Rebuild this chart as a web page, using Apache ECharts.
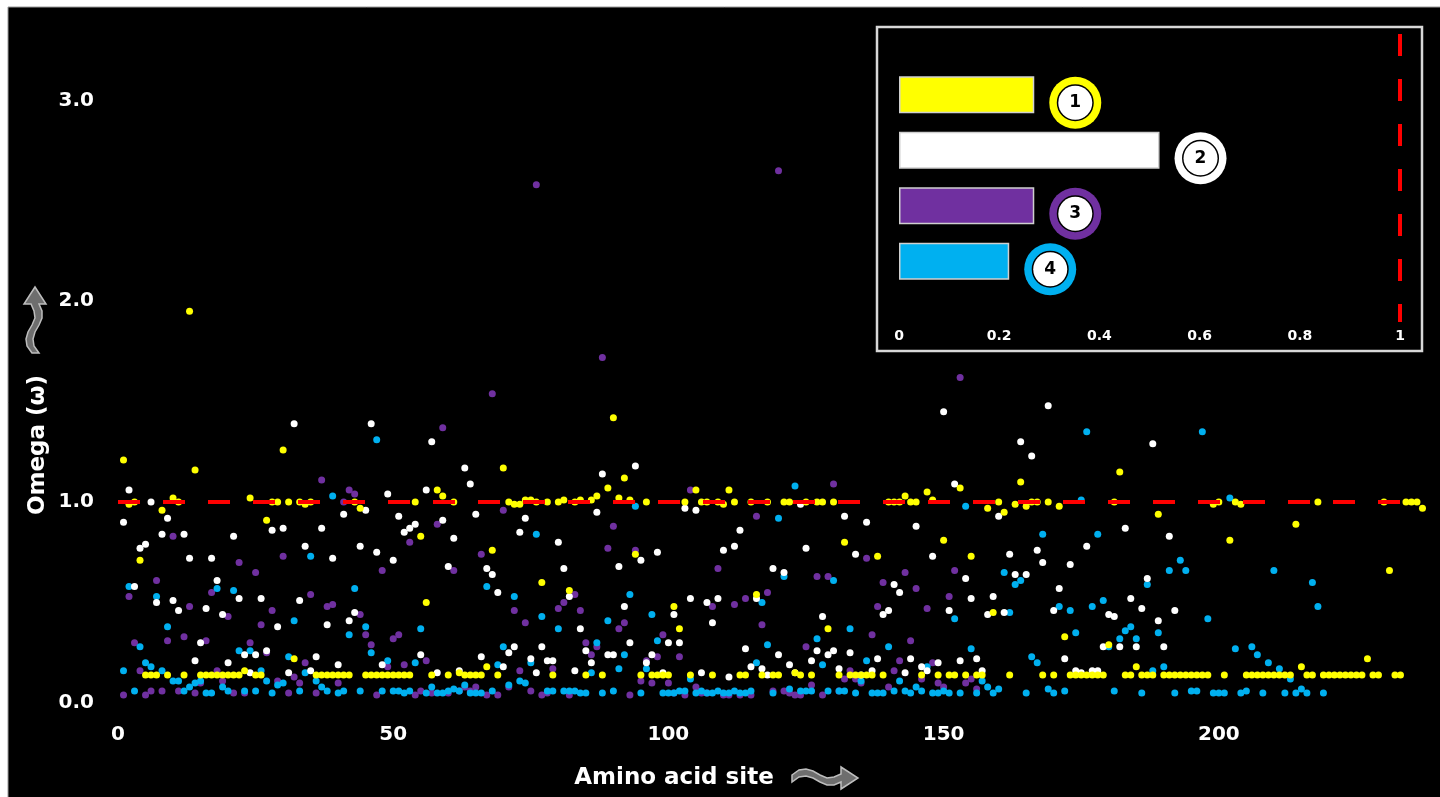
<!DOCTYPE html>
<html>
<head>
<meta charset="utf-8">
<script src="https://cdn.jsdelivr.net/npm/echarts@6/dist/echarts.min.js"></script>
<style>
  html, body { margin: 0; padding: 0; background: #fff; }
  #main { width: 1440px; height: 797px; }
</style>
</head>
<body>
<div id="main"></div>
<script>
// omega per amino acid site, index 0 = site 1
let yellowOmega = [1.21,0.99,1.0,0.71,0.14,0.14,0.14,0.96,0.14,1.02,
1.0,0.14,1.95,1.16,0.14,0.14,0.14,0.14,0.14,0.14,
0.14,0.14,0.16,1.02,0.14,0.14,0.91,1.0,1.0,1.26,
1.0,0.22,1.0,0.99,1.0,0.14,0.14,0.14,0.14,0.14,
0.14,0.14,1.0,0.97,0.14,0.14,0.14,0.14,0.14,0.14,
0.14,0.14,0.14,1.0,0.83,0.5,0.14,1.06,1.03,0.14,
1.0,0.15,0.14,0.14,0.14,0.14,0.18,0.76,0.14,1.17,
1.0,0.99,0.99,1.01,1.01,1.0,0.6,1.0,0.14,1.0,
1.01,0.56,1.0,1.01,0.14,1.01,1.03,0.14,1.07,1.42,
1.02,1.12,1.01,0.74,0.14,1.0,0.14,0.14,0.14,0.14,
0.48,0.37,1.0,0.14,1.06,1.0,1.0,0.14,1.0,0.99,
1.06,1.0,0.14,0.14,1.0,0.54,0.14,1.0,0.14,0.14,
1.0,1.0,0.15,0.14,1.0,0.14,1.0,1.0,0.37,1.0,
0.14,0.8,0.14,0.14,0.14,0.14,0.14,0.73,0.14,1.0,
1.0,1.0,1.03,1.0,1.0,0.14,1.05,1.01,0.14,0.81,
0.14,0.14,1.07,0.14,0.73,0.14,0.14,0.97,0.45,1.0,
0.95,0.14,0.99,1.1,0.98,1.0,1.0,0.14,1.0,0.14,
0.98,0.33,0.14,0.14,0.14,0.14,0.14,0.14,0.14,0.29,
1.0,1.15,0.14,0.14,0.18,0.14,0.14,0.14,0.94,0.14,
0.14,0.14,0.14,0.14,0.14,0.14,0.14,0.14,0.99,1.0,
0.14,0.81,1.0,0.99,0.14,0.14,0.14,0.14,0.14,0.14,
0.14,0.14,0.14,0.89,0.18,0.14,0.14,1.0,0.14,0.14,
0.14,0.14,0.14,0.14,0.14,0.14,0.22,0.14,0.14,1.0,
0.66,0.14,0.14,1.0,1.0,1.0,0.97]

let whiteOmega = [0.9,1.06,0.58,0.77,0.79,1.0,0.5,0.84,0.92,0.51,
0.46,0.84,0.72,0.21,0.3,0.47,0.72,0.61,0.44,0.2,
0.83,0.52,0.24,0.15,0.24,0.52,0.26,0.86,0.38,0.87,
0.15,1.39,0.51,0.78,0.16,0.23,0.87,0.39,0.72,0.19,
0.94,0.41,0.45,0.78,0.96,1.39,0.75,0.19,1.04,0.71,
0.93,0.85,0.87,0.89,0.24,1.06,1.3,0.15,0.91,0.68,
0.82,0.16,1.17,1.09,0.94,0.23,0.67,0.64,0.55,0.18,
0.25,0.28,0.85,0.92,0.22,0.15,0.28,0.21,0.21,0.8,
0.67,0.53,0.16,0.37,0.26,0.2,0.95,1.14,0.24,0.24,
0.68,0.48,0.3,1.18,0.71,0.2,0.24,0.75,0.15,0.3,
0.44,0.3,0.97,0.52,0.96,0.15,0.5,0.4,0.52,0.76,
0.13,0.78,0.86,0.27,0.18,0.52,0.17,0.14,0.67,0.24,
0.65,0.19,0.15,0.99,0.77,0.21,0.26,0.43,0.24,0.26,
0.17,0.93,0.25,0.74,0.14,0.9,0.16,0.22,0.44,0.46,
0.59,0.55,0.15,0.22,0.88,0.18,0.16,0.73,0.2,1.45,
0.46,1.09,0.21,0.62,0.52,0.22,0.16,0.44,0.53,0.93,
0.45,0.74,0.64,1.3,0.64,1.23,0.76,0.7,1.48,0.46,
0.57,0.22,0.69,0.16,0.15,0.78,0.16,0.16,0.28,0.44,
0.43,0.28,0.87,0.52,0.28,0.47,0.62,1.29,0.41,0.28,
0.83,0.46]

let purpleOmega = [0.04,0.53,0.3,0.16,0.04,0.06,0.61,0.06,0.31,0.83,
0.06,0.33,0.48,0.05,0.1,0.31,0.55,0.16,0.11,0.43,
0.05,0.7,0.05,0.3,0.65,0.39,0.25,0.46,0.11,0.73,
0.05,0.13,0.1,0.2,0.54,0.05,1.11,0.48,0.49,0.1,
1.0,1.06,1.04,0.44,0.34,0.29,0.04,0.66,0.18,0.32,
0.34,0.19,0.8,0.04,0.06,0.21,0.05,0.89,1.37,0.05,
0.66,0.06,0.08,0.06,0.08,0.74,0.04,1.54,0.04,0.96,
0.08,0.46,0.16,0.4,0.06,2.58,0.04,0.05,0.17,0.47,
0.5,0.04,0.54,0.46,0.3,0.24,0.28,1.72,0.77,0.88,
0.37,0.4,0.04,0.76,0.11,0.21,0.1,0.23,0.34,0.1,
0.05,0.23,0.04,1.06,0.08,0.05,0.05,0.48,0.67,0.04,
0.04,0.49,0.04,0.52,0.04,0.93,0.39,0.55,0.06,2.65,
0.06,0.05,0.04,0.04,0.28,0.09,0.63,0.04,0.63,1.09,
0.06,0.12,0.16,0.12,0.1,0.72,0.34,0.48,0.6,0.08,
0.16,0.21,0.65,0.31,0.57,0.12,0.47,0.2,0.1,0.08,
0.53,0.66,1.62,0.1,0.12,0.07]

let blueOmega = [0.16,0.58,0.06,0.28,0.2,0.18,0.53,0.16,0.38,0.11,
0.11,0.06,0.08,0.1,0.11,0.05,0.05,0.57,0.08,0.06,
0.56,0.26,0.06,0.26,0.06,0.16,0.11,0.05,0.09,0.1,
0.23,0.41,0.06,0.15,0.73,0.11,0.08,0.06,1.03,0.05,
0.06,0.34,0.57,0.06,0.38,0.25,1.31,0.06,0.21,0.06,
0.06,0.05,0.06,0.2,0.37,0.05,0.08,0.05,0.05,0.06,
0.07,0.06,0.09,0.05,0.05,0.05,0.58,0.06,0.19,0.28,
0.09,0.53,0.11,0.1,0.2,0.84,0.43,0.06,0.06,0.37,
0.06,0.06,0.06,0.05,0.05,0.15,0.3,0.05,0.41,0.06,
0.17,0.24,0.54,0.98,0.05,0.17,0.44,0.31,0.05,0.05,
0.05,0.06,0.06,0.12,0.05,0.06,0.05,0.05,0.06,0.05,
0.05,0.06,0.05,0.05,0.06,0.2,0.5,0.29,0.05,0.92,
0.63,0.07,1.08,0.06,0.06,0.06,0.32,0.19,0.06,0.61,
0.06,0.06,0.37,0.05,0.11,0.21,0.05,0.05,0.05,0.28,
0.06,0.11,0.06,0.05,0.08,0.06,0.18,0.05,0.05,0.06,
0.05,0.42,0.05,0.98,0.27,0.05,0.11,0.08,0.05,0.07,
0.65,0.45,0.59,0.61,0.05,0.23,0.2,0.84,0.07,0.05,
0.48,0.06,0.46,0.35,1.01,1.35,0.48,0.84,0.51,0.28,
0.06,0.32,0.36,0.38,0.32,0.05,0.59,0.16,0.35,0.18,
0.66,0.05,0.71,0.66,0.06,0.06,1.35,0.42,0.05,0.05,
0.05,1.02,0.27,0.05,0.06,0.28,0.24,0.05,0.2,0.66,
0.17,0.05,0.12,0.05,0.07,0.05,0.6,0.48,0.05]

// inset: mean omega per gene
let insetLabels = ['1', '2', '3', '4']
let insetValues = [0.27, 0.52, 0.27, 0.22]
let colors = ['#ffff00', '#ffffff', '#7030a0', '#00b0f0']

let xTicks = { interval: 50, max: 240 }
let yTicks = { interval: 1, max: 3.4 }
let neutralLine = { omega: 1, fromSite: 0, toSite: 236 }

function toPoints(arr) {
    return arr.map(function (v, i) { return [i + 1, v] })
}

let font = '"DejaVu Sans", Verdana, sans-serif'

// wavy arrow outline, tail at local 0,0 pointing +x
let arrowPoints = [[0,-3],[7,-8],[14,-9],[21,-7],[28,-3],[35,0],[42,-1],[49,-4],
    [49,-11],[66,0],[49,11],[49,4],
    [42,7],[35,7],[28,4],[21,0],[14,-2],[7,-1],[0,4]]

let chart = echarts.init(document.getElementById('main'))
chart.setOption({
    backgroundColor: '#ffffff',
    animation: false,
    graphic: [
        {
            type: 'rect', z: -10,
            shape: { x: 8, y: 7, width: 1440, height: 800 },
            style: { fill: '#000', stroke: '#999', lineWidth: 1 }
        },
        {
            type: 'rect', z: 10,
            shape: { x: 877, y: 27, width: 545, height: 324 },
            style: { fill: 'none', stroke: '#d8d8d8', lineWidth: 2.5 }
        },
        {
            type: 'text', x: 674, y: 778,
            style: { text: 'Amino acid site', fill: '#fff', font: 'bold 23px ' + font,
                textAlign: 'center', textVerticalAlign: 'middle' }
        },
        {
            type: 'text', x: 38, y: 445, rotation: Math.PI / 2,
            style: { text: 'Omega (\u03c9)', fill: '#fff', font: 'bold 23px ' + font,
                textAlign: 'center', textVerticalAlign: 'middle' }
        },
        {
            type: 'polygon', x: 792, y: 778,
            shape: { points: arrowPoints },
            style: { fill: '#6e6e6e', stroke: '#bdbdbd', lineWidth: 1.5 }
        },
        {
            type: 'polygon', x: 35, y: 353, rotation: Math.PI / 2,
            shape: { points: arrowPoints },
            style: { fill: '#6e6e6e', stroke: '#bdbdbd', lineWidth: 1.5 }
        }
    ],
    grid: [
        { left: 118, right: 1, top: 20, bottom: 94 },
        { left: 899, width: 501, top: 67, height: 222 },
        { left: 899, width: 501, top: 34, height: 288 }
    ],
    xAxis: [
        {
            type: 'value', gridIndex: 0, min: 0, max: xTicks.max, interval: xTicks.interval,
            axisLine: { show: false }, axisTick: { show: false }, splitLine: { show: false },
            axisLabel: { color: '#fff', fontFamily: font, fontWeight: 'bold', fontSize: 20,
                margin: 22, showMaxLabel: false }
        },
        {
            type: 'value', gridIndex: 1, min: 0, max: 1, interval: 0.2,
            axisLine: { show: false }, axisTick: { show: false }, splitLine: { show: false },
            axisLabel: {
                color: '#fff', fontFamily: font, fontWeight: 'bold', fontSize: 14, margin: 40,
                formatter: function (v) { return (v === 0 || v === 1) ? String(v) : v.toFixed(1) }
            }
        },
        { type: 'value', gridIndex: 2, min: 0, max: 1, show: false }
    ],
    yAxis: [
        {
            type: 'value', gridIndex: 0, min: 0, max: yTicks.max, interval: yTicks.interval,
            axisLine: { show: false }, axisTick: { show: false }, splitLine: { show: false },
            axisLabel: {
                color: '#fff', fontFamily: font, fontWeight: 'bold', fontSize: 20, margin: 24,
                showMaxLabel: false,
                formatter: function (v) { return v.toFixed(1) }
            }
        },
        { type: 'category', gridIndex: 1, inverse: true, data: insetLabels, show: false },
        { type: 'value', gridIndex: 2, min: 0, max: 1, show: false }
    ],
    series: [
        {
            name: '3', type: 'scatter', data: toPoints(purpleOmega),
            symbolSize: 7, itemStyle: { color: colors[2], opacity: 1 }
        },
        {
            name: '4', type: 'scatter', data: toPoints(blueOmega),
            symbolSize: 7, itemStyle: { color: colors[3], opacity: 1 }
        },
        {
            name: '2', type: 'scatter', data: toPoints(whiteOmega),
            symbolSize: 7, itemStyle: { color: colors[1], opacity: 1 }
        },
        {
            name: '1', type: 'scatter', data: toPoints(yellowOmega),
            symbolSize: 7, itemStyle: { color: colors[0], opacity: 1 },
            markLine: {
                silent: true, symbol: 'none', label: { show: false },
                lineStyle: { color: '#ff0000', width: 4, type: [22, 23] },
                data: [[
                    { coord: [neutralLine.fromSite, neutralLine.omega] },
                    { coord: [neutralLine.toSite, neutralLine.omega] }
                ]]
            }
        },
        {
            type: 'bar', xAxisIndex: 1, yAxisIndex: 1, barWidth: 37,
            data: insetValues.map(function (v, i) {
                return {
                    value: v,
                    itemStyle: { color: colors[i], borderColor: '#cfcfcf', borderWidth: 1.5 },
                    label: { backgroundColor: colors[i] }
                }
            }),
            label: {
                show: true, position: 'right', distance: 15, offset: [0, 8],
                borderRadius: 26, padding: 9,
                formatter: function (p) { return '{n|' + insetLabels[p.dataIndex] + '}' },
                rich: {
                    n: {
                        width: 34, height: 34, lineHeight: 34, align: 'center',
                        backgroundColor: '#fff', borderColor: '#000', borderWidth: 1.5,
                        borderRadius: 17, color: '#000', fontFamily: font,
                        fontWeight: 'bold', fontSize: 17
                    }
                }
            }
        },
        {
            type: 'line', xAxisIndex: 2, yAxisIndex: 2, symbol: 'none', silent: true,
            data: [[1, 1], [1, 0]],
            lineStyle: { color: '#ff0000', width: 4, type: [22, 23] }
        }
    ]
})
</script>
</body>
</html>
